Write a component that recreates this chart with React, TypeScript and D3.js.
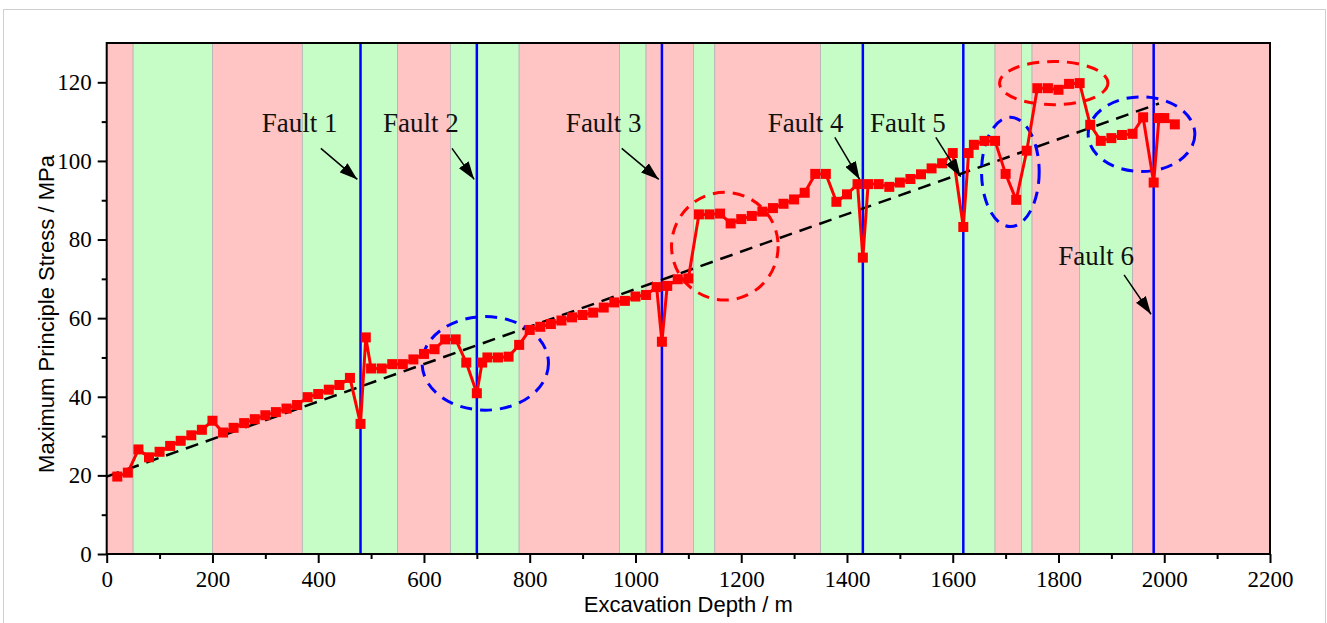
import { useEffect, useRef } from "react";
import * as d3 from "d3";

/** ---- data ---- **/
const depth = [
  20, 40, 60, 80, 100, 120, 140, 160, 180, 200, 220, 240, 260, 280, 300, 320, 340, 360, 380, 400, 420, 440, 460,
  480, 490, 500, 520, 540, 560, 580, 600, 620, 640, 660, 680, 700, 710, 720, 740, 760, 780, 800, 820, 840, 860,
  880, 900, 920, 940, 960, 980, 1000, 1020, 1040, 1050, 1060, 1080, 1100, 1120, 1140, 1160, 1180, 1200, 1220,
  1240, 1260, 1280, 1300, 1320, 1340, 1360, 1380, 1400, 1420, 1430, 1440, 1460, 1480, 1500, 1520, 1540, 1560,
  1580, 1600, 1620, 1630, 1640, 1660, 1680, 1700, 1720, 1740, 1760, 1780, 1800, 1820, 1840, 1860, 1880, 1900,
  1920, 1940, 1960, 1980, 1990, 2000, 2020,
];
const stress = [
  19.7, 20.7, 26.6, 24.6, 26.0, 27.5, 28.8, 30.2, 31.6, 33.9, 30.9, 32.1, 33.3, 34.3, 35.3, 36.1, 37.0, 37.9, 39.9,
  40.7, 41.8, 43.0, 44.8, 33.1, 55.1, 47.2, 47.2, 48.3, 48.3, 49.5, 50.9, 52.1, 54.6, 54.6, 48.7, 40.9, 48.7, 50.0,
  50.0, 50.2, 53.2, 57.0, 57.8, 58.5, 59.4, 60.2, 60.8, 61.4, 62.7, 64.0, 64.4, 65.5, 65.9, 67.9, 54.0, 68.2, 69.9,
  70.1, 86.4, 86.4, 86.6, 84.1, 85.2, 86.0, 87.1, 88.0, 89.1, 90.2, 91.9, 96.7, 96.7, 89.6, 91.5, 94.1, 75.4, 94.1,
  94.1, 93.4, 94.5, 95.4, 96.6, 98.1, 99.4, 102.0, 83.2, 102.0, 104.1, 105.1, 105.1, 96.7, 90.1, 102.6, 118.5,
  118.5, 118.1, 119.6, 119.8, 109.2, 105.1, 105.8, 106.6, 106.9, 111.1, 94.5, 110.9, 110.9, 109.3,
];

// linear trend (dashed black), end points
const trendX = [0, 1990];
const trendY = [19.7, 114.6];

// rock zones along the tunnel: edges and kind ("r" = red zone, "g" = green zone)
const bandEdges = [0, 50, 200, 370, 550, 650, 780, 970, 1020, 1110, 1150, 1350, 1680, 1730, 1750, 1840, 1940, 2200];
const bandKind = ["r", "g", "r", "g", "r", "g", "r", "g", "r", "g", "r", "g", "r", "g", "r", "g", "r"];

// faults: position, label and arrow (in data units)
const faultX = [480, 700, 1050, 1430, 1620, 1980];
const faultLabel = ["Fault 1", "Fault 2", "Fault 3", "Fault 4", "Fault 5", "Fault 6"];
const labelPos = [[365, 109.7], [594, 109.7], [940, 109.7], [1322, 109.7], [1515, 109.7], [1871, 75.8]];
const arrowFrom = [[405, 103.2], [653, 103.2], [974, 103.2], [1377, 106], [1568, 106], [1924, 71]];
const arrowTo = [[474, 95.3], [695, 95.3], [1044, 95.3], [1424, 95.3], [1615, 96], [1975, 61]];

// dashed ellipses: centre x, centre y, radius x, radius y (data units)
const ellipses = [
  { cx: 716, cy: 48.5, rx: 119.5, ry: 11.9, color: "#0000ff" },
  { cx: 1169, cy: 78.3, rx: 100.8, ry: 13.7, color: "#ff0000" },
  { cx: 1709, cy: 97.2, rx: 54.5, ry: 13.9, color: "#0000ff" },
  { cx: 1791, cy: 119.8, rx: 102.5, ry: 5.5, color: "#ff0000" },
  { cx: 1957, cy: 106.8, rx: 100.9, ry: 9.5, color: "#0000ff" },
];

const xMajor = [0, 200, 400, 600, 800, 1000, 1200, 1400, 1600, 1800, 2000, 2200];
const yMajor = [0, 20, 40, 60, 80, 100, 120];

const W = 1327;
const H = 623;
const SERIF = "'Liberation Serif', 'Times New Roman', serif";
const SANS = "'Liberation Sans', Arial, sans-serif";

export default function App() {
  const svgRef = useRef<SVGSVGElement>(null);

  useEffect(() => {
    const svg = d3.select(svgRef.current);
    svg.selectAll("*").remove();

    const left = 106.7, right = 1270, top = 43, bottom = 554;
    const x = d3.scaleLinear().domain([0, 2200]).range([left, right]);
    const y = d3.scaleLinear().domain([0, 130]).range([bottom, top]);
    const sx = (v: number) => x(v) - x(0);
    const sy = (v: number) => y(0) - y(v);

    // outer figure frame
    svg.append("rect")
      .attr("x", 3.5).attr("y", 9.5).attr("width", 1322).attr("height", 700)
      .attr("fill", "white").attr("stroke", "#cfcfcf").attr("stroke-width", 1);

    const defs = svg.append("defs");
    defs.append("marker")
      .attr("id", "arrowHead")
      .attr("markerUnits", "userSpaceOnUse")
      .attr("viewBox", "0 0 18 12")
      .attr("refX", 18).attr("refY", 6)
      .attr("markerWidth", 18).attr("markerHeight", 12)
      .attr("orient", "auto")
      .append("path").attr("d", "M0,0 L18,6 L0,12 Z").attr("fill", "black");

    // zones
    bandKind.forEach((k, i) => {
      svg.append("rect")
        .attr("x", x(bandEdges[i])).attr("y", y(130))
        .attr("width", x(bandEdges[i + 1]) - x(bandEdges[i]))
        .attr("height", y(0) - y(130))
        .attr("fill", k === "r" ? "#ffc4c4" : "#c6fdc6")
        .attr("stroke", "#b4b4b4").attr("stroke-width", 0.8);
    });

    // fault lines
    faultX.forEach(f => {
      svg.append("line")
        .attr("x1", x(f)).attr("x2", x(f)).attr("y1", y(130)).attr("y2", y(0))
        .attr("stroke", "#0000ff").attr("stroke-width", 2.5);
    });

    // trend line
    svg.append("line")
      .attr("x1", x(trendX[0])).attr("y1", y(trendY[0]))
      .attr("x2", x(trendX[1])).attr("y2", y(trendY[1]))
      .attr("stroke", "black").attr("stroke-width", 2.5).attr("stroke-dasharray", "13,8");

    // ellipses
    ellipses.forEach(e => {
      svg.append("ellipse")
        .attr("cx", x(e.cx)).attr("cy", y(e.cy)).attr("rx", sx(e.rx)).attr("ry", sy(e.ry))
        .attr("fill", "none").attr("stroke", e.color).attr("stroke-width", 3)
        .attr("stroke-dasharray", "12,8");
    });

    // data
    const pts = depth.map((d, i) => [d, stress[i]] as [number, number]);
    const line = d3.line<[number, number]>().x(d => x(d[0])).y(d => y(d[1]));
    svg.append("path").datum(pts)
      .attr("d", line).attr("fill", "none").attr("stroke", "#ff0000")
      .attr("stroke-width", 3).attr("stroke-linejoin", "round");
    svg.append("g").selectAll("rect").data(pts).join("rect")
      .attr("x", d => x(d[0]) - 5).attr("y", d => y(d[1]) - 5)
      .attr("width", 10).attr("height", 10).attr("fill", "#ff0000");

    // fault labels + arrows
    faultLabel.forEach((t, i) => {
      svg.append("text")
        .attr("x", x(labelPos[i][0])).attr("y", y(labelPos[i][1]))
        .attr("text-anchor", "middle").attr("dominant-baseline", "central")
        .attr("font-family", SERIF).attr("font-size", 27).attr("fill", "#111")
        .text(t);
      svg.append("line")
        .attr("x1", x(arrowFrom[i][0])).attr("y1", y(arrowFrom[i][1]))
        .attr("x2", x(arrowTo[i][0])).attr("y2", y(arrowTo[i][1]))
        .attr("stroke", "black").attr("stroke-width", 1.5)
        .attr("marker-end", "url(#arrowHead)");
    });

    // frame
    svg.append("rect")
      .attr("x", left).attr("y", top).attr("width", right - left).attr("height", bottom - top)
      .attr("fill", "none").attr("stroke", "black").attr("stroke-width", 2);

    // x axis
    const gx = svg.append("g").attr("transform", `translate(0,${bottom})`);
    gx.call(d3.axisBottom(x).tickValues(d3.range(100, 2200, 200)).tickSize(5).tickFormat(() => ""));
    gx.select(".domain").remove();
    const gx2 = svg.append("g").attr("transform", `translate(0,${bottom})`);
    gx2.call(d3.axisBottom(x).tickValues(xMajor).tickSize(9).tickPadding(8).tickFormat(d3.format("d")));
    gx2.select(".domain").remove();
    gx2.selectAll("text").attr("font-family", SERIF).attr("font-size", 23).attr("fill", "black");

    // y axis
    const gy = svg.append("g").attr("transform", `translate(${left},0)`);
    gy.call(d3.axisLeft(y).tickValues(d3.range(10, 130, 20)).tickSize(5).tickFormat(() => ""));
    gy.select(".domain").remove();
    const gy2 = svg.append("g").attr("transform", `translate(${left},0)`);
    gy2.call(d3.axisLeft(y).tickValues(yMajor).tickSize(9).tickPadding(6).tickFormat(d3.format("d")));
    gy2.select(".domain").remove();
    gy2.selectAll("text").attr("font-family", SERIF).attr("font-size", 23).attr("fill", "black");
    svg.selectAll(".tick line").attr("stroke", "black").attr("stroke-width", 2);

    // axis titles
    svg.append("text")
      .attr("x", (left + right) / 2).attr("y", 612)
      .attr("text-anchor", "middle").attr("font-family", SANS).attr("font-size", 22)
      .text("Excavation Depth / m");
    svg.append("text")
      .attr("transform", `translate(54,${314}) rotate(-90)`)
      .attr("text-anchor", "middle").attr("font-family", SANS).attr("font-size", 22)
      .text("Maximum Principle Stress / MPa");
  }, []);

  return (
    <svg
      ref={svgRef}
      width={W}
      height={H}
      style={{ position: "absolute", left: 0, top: 0, display: "block", background: "white" }}
    />
  );
}
